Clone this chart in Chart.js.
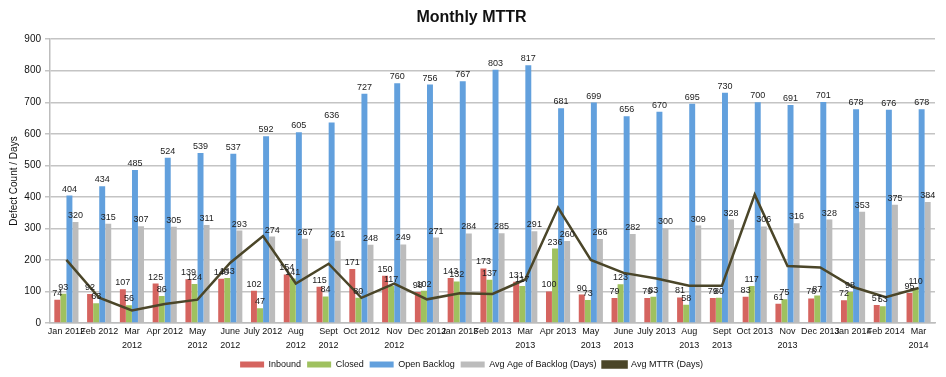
<!DOCTYPE html>
<html>
<head>
<meta charset="utf-8">
<script src="https://cdn.jsdelivr.net/npm/chart.js@4/dist/chart.umd.min.js"></script>
<style>
  html, body { margin: 0; padding: 0; background: #fff; }
  #wrap { width: 946px; height: 377px; }
</style>
</head>
<body>
<div id="wrap"><canvas id="chart"></canvas></div>
<script>
const months = [
  'Jan 2012', 'Feb 2012', ['Mar', '2012'], 'Apr 2012', ['May', '2012'], ['June', '2012'], 'July 2012',
  ['Aug', '2012'], ['Sept', '2012'], 'Oct 2012', ['Nov', '2012'], 'Dec 2012', 'Jan 2013', 'Feb 2013',
  ['Mar', '2013'], 'Apr 2013', ['May', '2013'], ['June', '2013'], 'July 2013', ['Aug', '2013'],
  ['Sept', '2013'], 'Oct 2013', ['Nov', '2013'], 'Dec 2013', 'Jan 2014', 'Feb 2014', ['Mar', '2014']
];
const inbound = [74, 92, 107, 125, 139, 140, 102, 154, 115, 171, 150, 98, 143, 173, 131, 100, 90, 79, 79, 81, 79, 83, 61, 78, 72, 57, 95];
const closed = [93, 63, 56, 86, 124, 143, 47, 141, 84, 80, 117, 102, 132, 137, 117, 236, 73, 123, 83, 58, 80, 117, 75, 87, 98, 53, 110];
const openBacklog = [404, 434, 485, 524, 539, 537, 592, 605, 636, 727, 760, 756, 767, 803, 817, 681, 699, 656, 670, 695, 730, 700, 691, 701, 678, 676, 678];
const avgAge = [320, 315, 307, 305, 311, 293, 274, 267, 261, 248, 249, 271, 284, 285, 291, 260, 266, 282, 300, 309, 328, 306, 316, 328, 353, 375, 384];
const avgMttr = [200, 80, 40, 60, 74, 191, 276, 125, 188, 80, 125, 75, 94, 92, 138, 366, 200, 159, 141, 118, 118, 407, 181, 176, 114, 82, 111];
const yTicks = [0, 100, 200, 300, 400, 500, 600, 700, 800, 900];

const FONT = "'Liberation Sans', Arial, sans-serif";

// value labels above each bar
const barLabels = {
  id: 'barLabels',
  afterDatasetsDraw(chart) {
    const ctx = chart.ctx;
    ctx.save();
    ctx.font = '9px ' + FONT;
    ctx.fillStyle = '#222';
    ctx.textAlign = 'center';
    ctx.textBaseline = 'bottom';
    chart.data.datasets.forEach((ds, i) => {
      if (ds.type === 'line') return;
      const meta = chart.getDatasetMeta(i);
      meta.data.forEach((bar, j) => {
        ctx.fillText(ds.data[j], bar.x, bar.y - 2);
      });
    });
    ctx.restore();
  }
};

new Chart(document.getElementById('chart'), {
  type: 'bar',
  data: {
    labels: months,
    datasets: [
      { label: 'Inbound', data: inbound, backgroundColor: '#d5645f', order: 1 },
      { label: 'Closed', data: closed, backgroundColor: '#9fc15f', order: 1 },
      { label: 'Open Backlog', data: openBacklog, backgroundColor: '#62a0dd', order: 1 },
      { label: 'Avg Age of Backlog (Days)', data: avgAge, backgroundColor: '#bcbcbc', order: 1 },
      {
        type: 'line', label: 'Avg MTTR (Days)', data: avgMttr,
        borderColor: '#4b4629', backgroundColor: '#4b4629', borderWidth: 2.5,
        pointRadius: 0, tension: 0, order: 0
      }
    ]
  },
  options: {
    responsive: true,
    maintainAspectRatio: false,
    animation: false,
    layout: { padding: { left: 8, right: 11, top: 0, bottom: -2 } },
    datasets: { bar: { categoryPercentage: 0.74, barPercentage: 0.98 } },
    scales: {
      x: {
        grid: { display: false, drawTicks: false },
        border: { display: true, color: '#bdbdbd', width: 1.5 },
        ticks: { color: '#111', font: { family: FONT, size: 9, lineHeight: 1.5 }, maxRotation: 0, autoSkip: false, padding: 2 }
      },
      y: {
        min: 0, max: 900,
        afterBuildTicks: s => { s.ticks = yTicks.map(v => ({ value: v })); },
        afterFit: s => { s.width = 42; },
        grid: { color: '#c4c4c4', lineWidth: 1.5, tickLength: 5 },
        border: { display: true, color: '#bdbdbd', width: 1.5 },
        ticks: { color: '#111', font: { family: FONT, size: 10 }, padding: 4 },
        title: { display: true, text: 'Defect Count / Days', color: '#111', font: { family: FONT, size: 10 }, padding: 0 }
      }
    },
    plugins: {
      title: {
        display: true, text: 'Monthly MTTR', color: '#111',
        font: { family: FONT, size: 16, weight: 'bold' }, padding: { top: 8, bottom: 12 }
      },
      legend: {
        position: 'bottom',
        labels: {
          color: '#111', font: { family: FONT, size: 9 }, boxWidth: 24, boxHeight: 6, padding: 6,
          sort: (a, b) => a.datasetIndex - b.datasetIndex
        }
      },
      tooltip: { enabled: false }
    }
  },
  plugins: [barLabels]
});
</script>
</body>
</html>
